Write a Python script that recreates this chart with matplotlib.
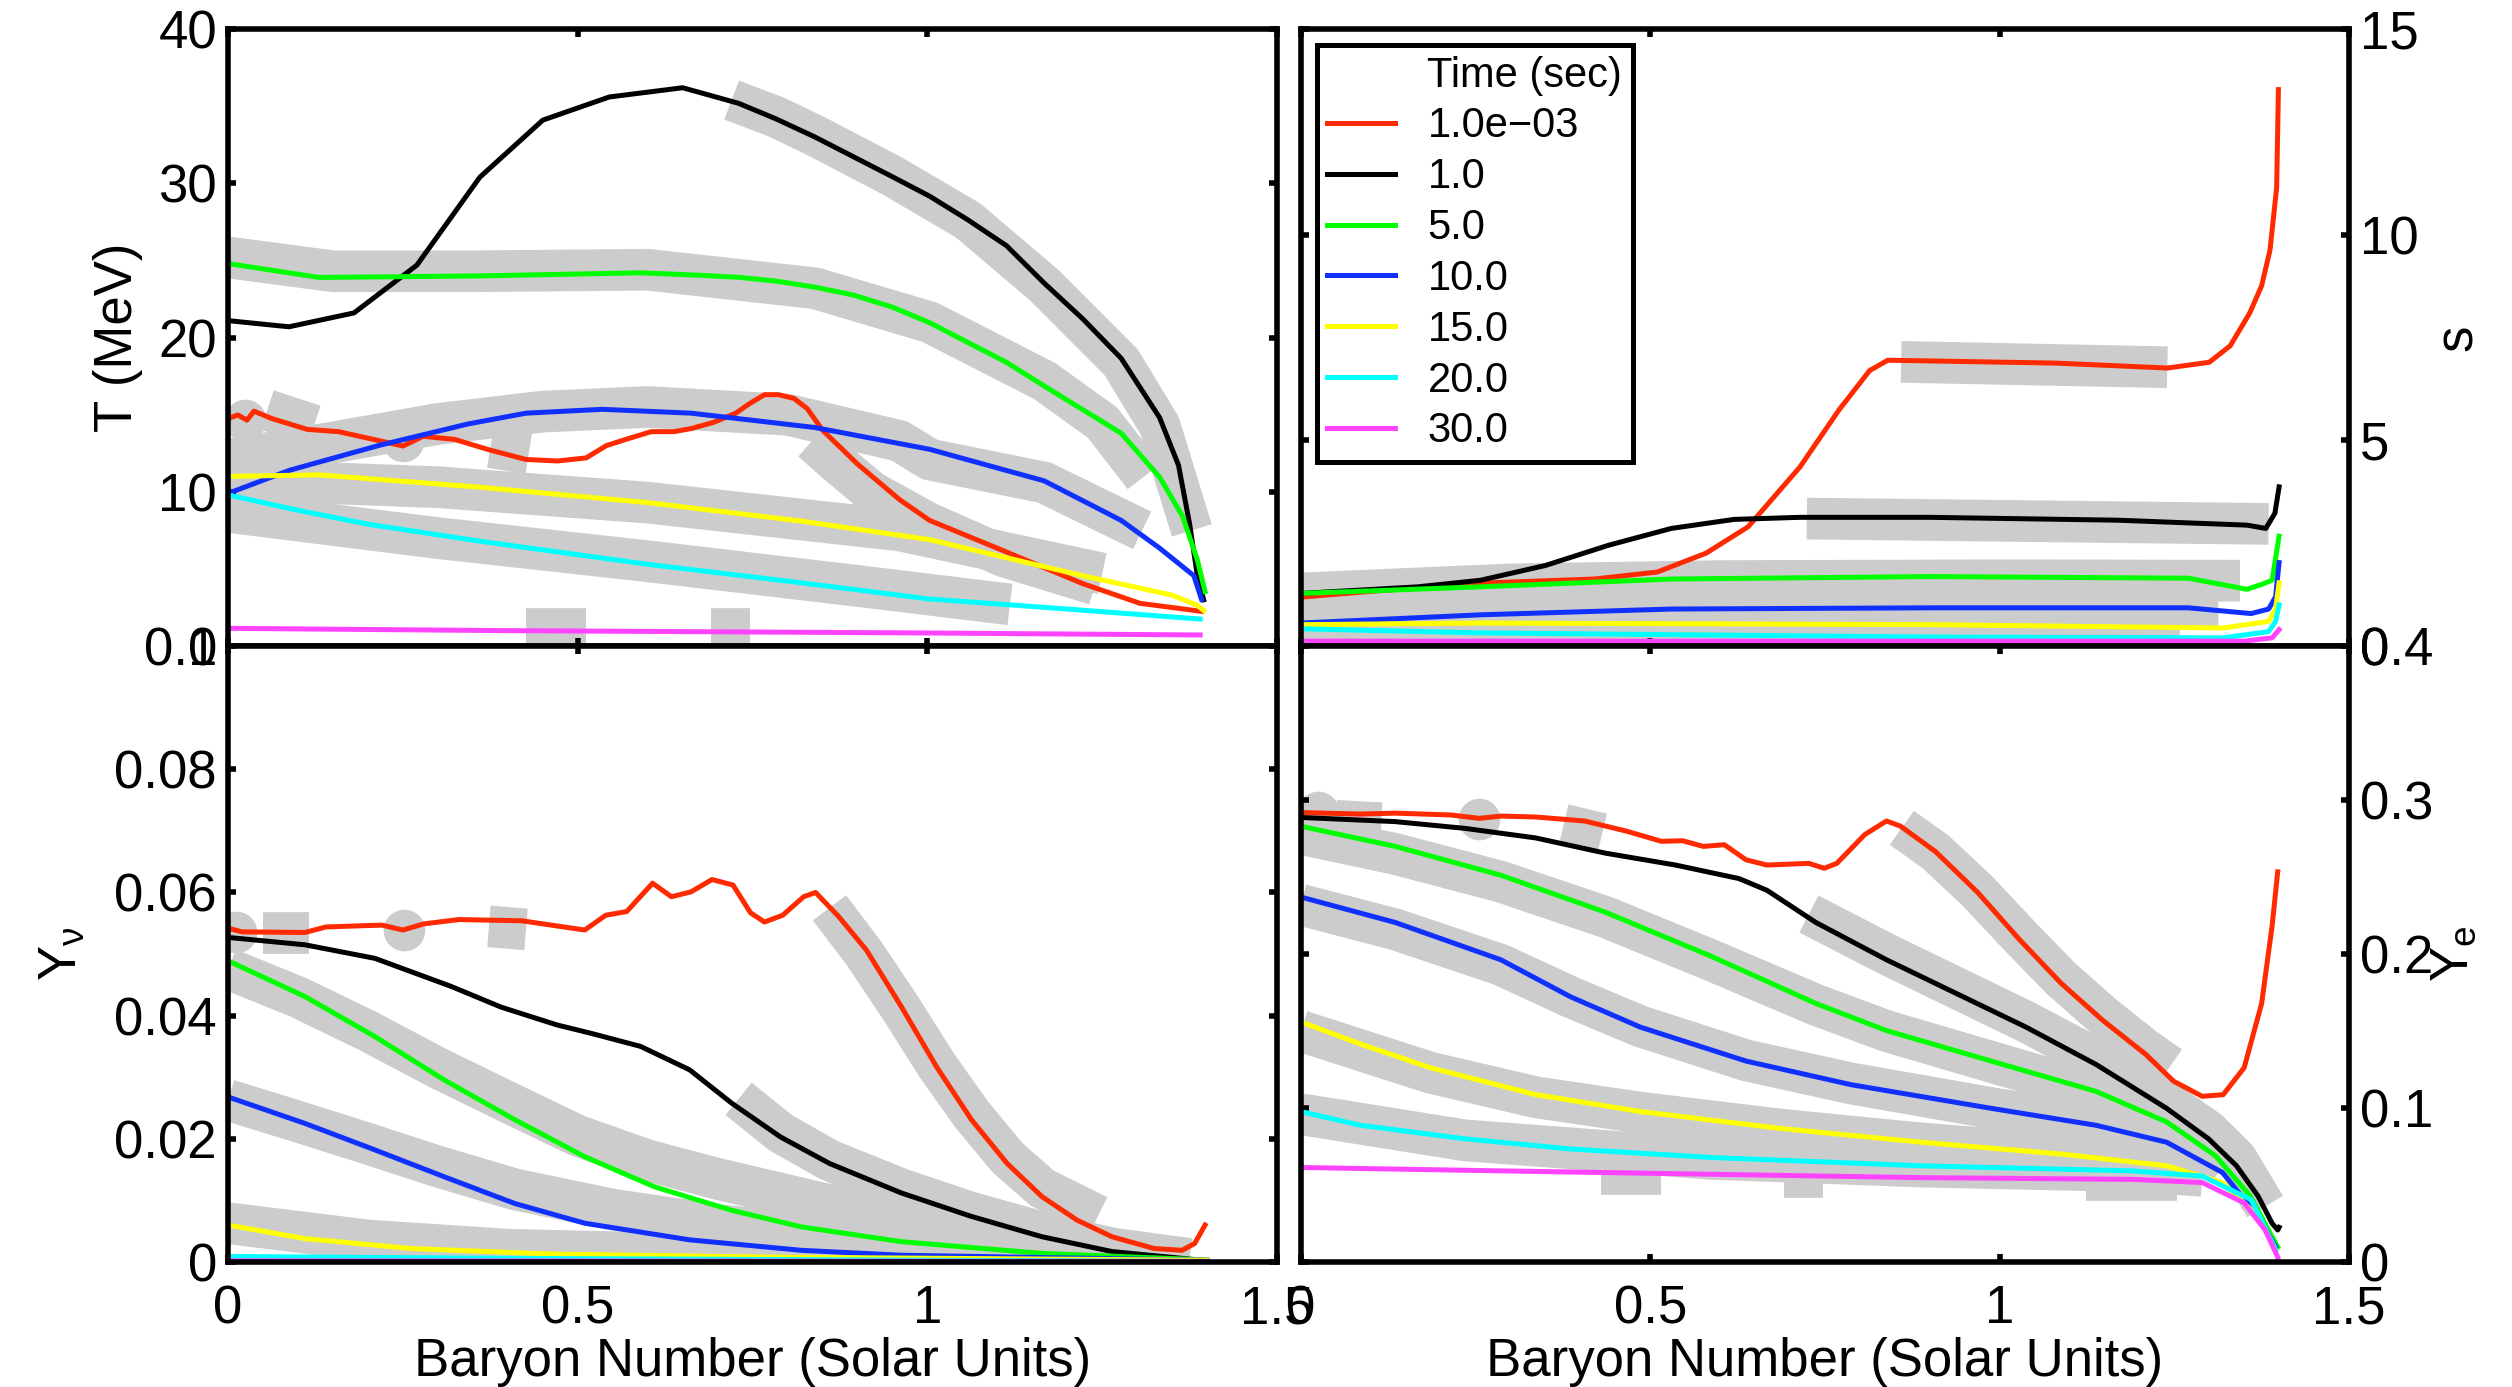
import matplotlib
matplotlib.use('Agg')
import matplotlib.pyplot as plt
from matplotlib.lines import Line2D

plt.rcParams['font.family'] = ['Liberation Sans', 'DejaVu Sans']
plt.rcParams['mathtext.default'] = 'regular'

# time slices (legend) and their colours
times = ['1.0e\u221203', '1.0', '5.0', '10.0', '15.0', '20.0', '30.0']
colors = ['#ff2a00', '#000000', '#00ff00', '#1030ff', '#ffff00', '#00ffff', '#ff44ff']
GRAY = '#cccccc'

xticks = [0, 0.5, 1, 1.5]
xticklabels = ['0', '0.5', '1', '1.5']

# ---- temperature T (MeV) ----
T_red = ([0, 0.014, 0.027, 0.037, 0.062, 0.113, 0.158, 0.202, 0.25, 0.279, 0.324, 0.375, 0.426, 0.471,
          0.512, 0.541, 0.573, 0.605, 0.637, 0.662, 0.694, 0.726, 0.745, 0.767, 0.787, 0.809, 0.828, 0.85,
          0.9, 0.96, 1.003, 1.113, 1.222, 1.304, 1.392],
         [14.76, 14.98, 14.65, 15.23, 14.76, 14.05, 13.9, 13.46, 12.97, 13.6, 13.4, 12.7, 12.1, 12.0,
          12.2, 13.0, 13.46, 13.9, 13.9, 14.1, 14.5, 15.1, 15.7, 16.3, 16.3, 16.06, 15.4, 14.0,
          11.8, 9.5, 8.15, 6.1, 4.05, 2.77, 2.25])
T_black = ([0, 0.087, 0.18, 0.27, 0.36, 0.45, 0.545, 0.65, 0.73, 0.784, 0.839, 0.894, 0.949, 1.003,
            1.058, 1.113, 1.167, 1.222, 1.277, 1.332, 1.359, 1.375, 1.386, 1.395],
           [21.1, 20.7, 21.6, 24.7, 30.4, 34.1, 35.6, 36.2, 35.19, 34.17, 33.01, 31.73, 30.45, 29.17,
            27.63, 25.96, 23.53, 21.22, 18.66, 14.81, 11.73, 7.89, 4.56, 3.0])
T_green = ([0, 0.13, 0.36, 0.59, 0.675, 0.73, 0.784, 0.839, 0.894, 0.949, 1.003, 1.058, 1.113, 1.167,
            1.222, 1.277, 1.332, 1.365, 1.386, 1.397],
           [24.8, 23.9, 24.0, 24.2, 24.04, 23.91, 23.66, 23.27, 22.76, 21.99, 20.97, 19.68, 18.4, 16.86,
            15.33, 13.8, 10.96, 8.4, 5.58, 3.53])
T_blue = ([0, 0.088, 0.215, 0.343, 0.426, 0.535, 0.662, 0.839, 1.003, 1.167, 1.277, 1.332, 1.381, 1.392],
          [9.9, 11.4, 13.0, 14.4, 15.1, 15.35, 15.1, 14.17, 12.76, 10.71, 8.15, 6.35, 4.56, 3.02])
T_yellow = ([0, 0.13, 0.36, 0.6, 0.82, 1.003, 1.222, 1.35, 1.386, 1.395],
            [11.0, 11.1, 10.3, 9.3, 8.1, 6.9, 4.56, 3.3, 2.64, 2.3])
T_cyan = ([0, 0.1, 0.2, 0.36, 0.6, 0.82, 1.003, 1.2, 1.39],
          [9.8, 8.8, 7.9, 6.8, 5.3, 4.1, 3.05, 2.4, 1.75])
T_mag = ([0, 0.4, 0.96, 1.39], [1.15, 1.0, 0.86, 0.72])

gT_lines = [([0.72, 0.784, 0.839, 0.949, 1.058, 1.167, 1.277, 1.332, 1.378],
             [35.4, 34.3, 33.1, 30.5, 27.6, 23.4, 18.4, 14.3, 7.5]),
            ([0, 0.15, 0.35, 0.6, 0.839, 1.003, 1.167, 1.25, 1.31],
             [25.2, 24.3, 24.3, 24.4, 23.2, 21.0, 17.2, 14.5, 11.0]),
            ([0, 0.15, 0.3, 0.45, 0.6, 0.8, 0.96, 1.003, 1.167, 1.307],
             [12.1, 13.2, 14.4, 15.2, 15.5, 15.0, 13.3, 12.1, 10.6, 7.5]),
            ([0, 0.3, 0.6, 0.96, 1.25], [10.8, 10.3, 9.3, 7.5, 4.7]),
            ([0, 0.3, 0.6, 0.9, 1.118], [8.7, 7.0, 5.5, 3.9, 2.7]),
            ([0.835, 0.87, 0.92, 1.0, 1.11, 1.24], [13.3, 11.9, 10.0, 8.0, 5.8, 4.0])]
gT_dots = ([0.024, 0.25], [14.65, 13.3])
gT_dash_x = [(0.056, 0.123), (0.375, 0.43), (0.426, 0.512), (0.69, 0.746)]
gT_dash_y = [(15.3, 14.3), (12.9, 12.5), (1.1, 1.1), (1.1, 1.1)]

# ---- entropy s ----
S_red = ([0, 0.1, 0.257, 0.42, 0.51, 0.58, 0.64, 0.714, 0.77, 0.814, 0.84, 1.08, 1.24, 1.30, 1.33,
          1.358, 1.375, 1.387, 1.3965, 1.399],
         [1.19, 1.33, 1.53, 1.63, 1.8, 2.26, 2.9, 4.35, 5.74, 6.7, 6.95, 6.88, 6.76, 6.9, 7.3,
          8.1, 8.76, 9.63, 11.15, 13.53])
S_black = ([0, 0.167, 0.257, 0.35, 0.44, 0.53, 0.62, 0.714, 0.9, 1.17, 1.354, 1.381, 1.394, 1.4],
           [1.28, 1.44, 1.6, 1.96, 2.45, 2.86, 3.08, 3.13, 3.13, 3.06, 2.94, 2.86, 3.23, 3.87])
S_green = ([0, 0.257, 0.53, 0.9, 1.27, 1.354, 1.375, 1.39, 1.4],
           [1.28, 1.44, 1.63, 1.69, 1.65, 1.38, 1.5, 1.6, 2.67])
S_blue = ([0, 0.257, 0.53, 0.9, 1.27, 1.36, 1.385, 1.395, 1.4],
          [0.56, 0.76, 0.9, 0.93, 0.93, 0.79, 0.9, 1.2, 2.03])
S_yellow = ([0, 0.257, 0.9, 1.32, 1.385, 1.395, 1.4], [0.52, 0.56, 0.52, 0.44, 0.6, 0.9, 1.54])
S_cyan = ([0, 0.257, 0.9, 1.32, 1.385, 1.395, 1.4], [0.42, 0.32, 0.22, 0.2, 0.35, 0.6, 1.0])
S_mag = ([0, 0.7, 1.35, 1.39, 1.4], [0.12, 0.12, 0.12, 0.2, 0.4])

gS_lines = [([0.859, 1.24], [6.91, 6.78]),
            ([0.724, 1.385], [3.1, 2.97]),
            ([0, 0.3, 0.6, 1.0, 1.344], [1.28, 1.5, 1.58, 1.6, 1.59]),
            ([0, 0.3, 0.6, 1.0, 1.313], [0.62, 0.82, 0.92, 0.95, 0.95]),
            ([0, 0.5, 1.0, 1.258], [0.45, 0.5, 0.48, 0.45])]

# ---- neutrino fraction Y_nu ----
N_red = ([0, 0.02, 0.11, 0.14, 0.22, 0.25, 0.28, 0.33, 0.42, 0.51, 0.54, 0.57, 0.607, 0.634, 0.662, 0.692,
          0.722, 0.747, 0.767, 0.793, 0.823, 0.840, 0.873, 0.913, 0.963, 1.013, 1.063, 1.114, 1.164, 1.214,
          1.264, 1.324, 1.364, 1.382, 1.397],
         [0.0542, 0.0536, 0.0535, 0.0544, 0.0547, 0.0539, 0.0549, 0.0556, 0.0554, 0.0539, 0.0563, 0.0569,
          0.0615, 0.0593, 0.0601, 0.0621, 0.0612, 0.0567, 0.0552, 0.0563, 0.0593, 0.0600, 0.0561, 0.0506,
          0.0414, 0.0317, 0.0231, 0.0160, 0.0106, 0.0068, 0.0041, 0.0022, 0.0019, 0.0030, 0.0060])
N_black = ([0, 0.11, 0.21, 0.32, 0.39, 0.47, 0.52, 0.59, 0.66, 0.72, 0.79, 0.86, 0.963, 1.063, 1.164,
            1.264, 1.364, 1.4],
           [0.0527, 0.0515, 0.0493, 0.0447, 0.0414, 0.0385, 0.0371, 0.0350, 0.0312, 0.0258, 0.0203,
            0.0160, 0.0112, 0.0074, 0.0041, 0.0017, 0.0006, 0.0002])
N_green = ([0, 0.11, 0.21, 0.31, 0.41, 0.51, 0.61, 0.72, 0.82, 0.963, 1.164, 1.364, 1.4],
           [0.0489, 0.0431, 0.0366, 0.0295, 0.0231, 0.0171, 0.0122, 0.0084, 0.0057, 0.0033, 0.0014,
            0.0005, 0.0003])
N_blue = ([0, 0.11, 0.21, 0.31, 0.41, 0.51, 0.66, 0.82, 0.963, 1.4],
          [0.0268, 0.0225, 0.0182, 0.0138, 0.0095, 0.0063, 0.0036, 0.0019, 0.0011, 0.0003])
N_yellow = ([0, 0.11, 0.26, 0.46, 0.77, 1.4], [0.0060, 0.0038, 0.0022, 0.0013, 0.0008, 0.0003])
N_cyan = ([0, 0.4, 1.0, 1.4], [0.0009, 0.0006, 0.0003, 0.0001])
N_mag = ([0, 1.4], [0.0002, 0.0001])

gN_lines = [([0.86, 0.91, 0.963, 1.013, 1.063, 1.114, 1.164, 1.244],
             [0.0575, 0.0500, 0.0410, 0.0320, 0.0240, 0.0170, 0.0120, 0.0075]),
            ([0.73, 0.79, 0.86, 0.963, 1.063, 1.164, 1.264, 1.375],
             [0.0265, 0.0210, 0.0165, 0.0118, 0.0080, 0.0048, 0.0022, 0.0005]),
            ([0, 0.1, 0.2, 0.3, 0.41, 0.5, 0.6, 0.7, 0.85, 1.0, 1.15, 1.3],
             [0.0476, 0.0430, 0.0375, 0.0315, 0.0254, 0.0205, 0.0165, 0.0135, 0.0095, 0.0065, 0.0040, 0.0015]),
            ([0, 0.1, 0.2, 0.3, 0.41, 0.55, 0.7, 0.9, 1.1, 1.3],
             [0.0263, 0.0228, 0.0192, 0.0155, 0.0118, 0.0085, 0.0060, 0.0038, 0.0022, 0.0010]),
            ([0, 0.2, 0.4, 0.7, 1.0, 1.35], [0.0063, 0.0035, 0.0020, 0.0012, 0.0008, 0.0004])]
gN_dots = ([0.012, 0.251], [0.0535, 0.0539])
gN_dash_x = [(0.05, 0.116), (0.373, 0.426)]
gN_dash_y = [(0.0534, 0.0534), (0.0545, 0.0540)]

# ---- electron fraction Y_e ----
E_red = ([0, 0.085, 0.135, 0.215, 0.255, 0.286, 0.336, 0.406, 0.466, 0.516, 0.546, 0.576, 0.606, 0.637,
          0.667, 0.727, 0.749, 0.767, 0.807, 0.838, 0.858, 0.908, 0.968, 1.028, 1.088, 1.148, 1.209, 1.249,
          1.290, 1.320, 1.350, 1.375, 1.390, 1.398],
         [0.2919, 0.2909, 0.2915, 0.2903, 0.2881, 0.2896, 0.2890, 0.2864, 0.2798, 0.2732, 0.2736, 0.2699,
          0.2710, 0.2612, 0.2578, 0.2589, 0.2557, 0.2589, 0.2776, 0.2864, 0.2831, 0.2666, 0.2403, 0.2096,
          0.1810, 0.1568, 0.1349, 0.1174, 0.1076, 0.1087, 0.1262, 0.1679, 0.2183, 0.2534])
E_black = ([0, 0.135, 0.235, 0.336, 0.436, 0.536, 0.627, 0.667, 0.737, 0.838, 0.938, 1.038, 1.138, 1.239,
            1.299, 1.339, 1.370, 1.390, 1.398, 1.4],
           [0.2887, 0.2860, 0.2816, 0.2754, 0.2655, 0.2578, 0.2490, 0.2414, 0.2205, 0.1963, 0.1744, 0.1525,
            0.1283, 0.0998, 0.0800, 0.0625, 0.0427, 0.0251, 0.0208, 0.0225])
E_green = ([0, 0.135, 0.286, 0.436, 0.587, 0.737, 0.838, 0.988, 1.138, 1.239, 1.309, 1.359, 1.39, 1.398],
           [0.2830, 0.2699, 0.2512, 0.2271, 0.1986, 0.1679, 0.1503, 0.1305, 0.1108, 0.0910, 0.0690, 0.0427,
            0.0164, 0.0098])
E_blue = ([0, 0.135, 0.286, 0.386, 0.486, 0.637, 0.787, 0.988, 1.138, 1.239, 1.319, 1.37, 1.395],
          [0.2370, 0.2205, 0.1963, 0.1722, 0.1525, 0.1305, 0.1152, 0.0998, 0.0888, 0.0778, 0.0581, 0.0296,
           0.0098])
E_yellow = ([0, 0.085, 0.185, 0.336, 0.486, 0.687, 0.888, 1.088, 1.239, 1.319, 1.37, 1.395],
            [0.1559, 0.1416, 0.1262, 0.1087, 0.0977, 0.0867, 0.0778, 0.0701, 0.0625, 0.0516, 0.0296, 0.0080])
E_cyan = ([0, 0.085, 0.235, 0.386, 0.587, 0.888, 1.189, 1.29, 1.36, 1.395],
          [0.0977, 0.0888, 0.0800, 0.0734, 0.0679, 0.0625, 0.0592, 0.0558, 0.0405, 0.0080])
E_mag = ([0, 0.286, 0.587, 0.888, 1.189, 1.29, 1.35, 1.38, 1.398],
         [0.0614, 0.0592, 0.0570, 0.0548, 0.0537, 0.0516, 0.0384, 0.0208, 0.0032])

gE_lines = [([0.86, 0.908, 0.968, 1.028, 1.088, 1.148, 1.209, 1.244],
             [0.282, 0.2665, 0.241, 0.212, 0.184, 0.160, 0.138, 0.127]),
            ([0.727, 0.838, 0.938, 1.038, 1.138, 1.239, 1.299, 1.339, 1.38],
             [0.226, 0.200, 0.178, 0.156, 0.132, 0.104, 0.085, 0.067, 0.036]),
            ([0, 0.135, 0.286, 0.436, 0.587, 0.737, 0.838, 0.988, 1.138, 1.239, 1.32],
             [0.278, 0.265, 0.247, 0.224, 0.196, 0.167, 0.150, 0.130, 0.110, 0.090, 0.062]),
            ([0, 0.135, 0.286, 0.386, 0.486, 0.637, 0.787, 0.988, 1.138, 1.28],
             [0.232, 0.216, 0.193, 0.172, 0.153, 0.131, 0.116, 0.100, 0.089, 0.072]),
            ([0, 0.185, 0.336, 0.486, 0.687, 0.888, 1.088, 1.28],
             [0.150, 0.123, 0.107, 0.097, 0.086, 0.077, 0.070, 0.060]),
            ([0, 0.235, 0.587, 0.888, 1.189, 1.29],
             [0.096, 0.079, 0.067, 0.062, 0.059, 0.056])]
gE_dots = ([0.024, 0.255], [0.292, 0.2875])
gE_dash_x = [(0.05, 0.115), (0.376, 0.431), (0.43, 0.515), (0.692, 0.747), (1.124, 1.254)]
gE_dash_y = [(0.2865, 0.2850), (0.284, 0.278), (0.057, 0.057), (0.055, 0.055), (0.053, 0.053)]

GLW = 30   # width of the grey reference bands
LW = 3.6
FS = 38


def draw(ax, series, glines, dots=None, dash_x=(), dash_y=()):
    for gx, gy in glines:
        ax.plot(gx, gy, color=GRAY, lw=GLW, solid_capstyle='butt', zorder=1)
    if dots is not None:
        ax.plot(dots[0], dots[1], 'o', ms=GLW, color=GRAY, mec='none', zorder=1)
    for (x0, x1), (y0, y1) in zip(dash_x, dash_y):
        ax.plot([x0, x1], [y0, y1], color=GRAY, lw=GLW, solid_capstyle='butt', zorder=1)
    lines = []
    for (x, y), c in zip(series, colors):
        l, = ax.plot(x, y, color=c, lw=LW, zorder=3)
        lines.append(l)
    ax.set_xlim(0, 1.5)
    ax.set_xticks(xticks)
    ax.tick_params(direction='in', top=True, right=True, length=6, width=4,
                   labelsize=FS, pad=8)
    ax.tick_params(axis='x', pad=16)
    for sp in ax.spines.values():
        sp.set_linewidth(4)
        sp.set_zorder(5)
    return lines


fig = plt.figure(figsize=(25.12, 13.87), dpi=100)
ax_T = fig.add_axes([0.0908, 0.5342, 0.4176, 0.4448])
ax_S = fig.add_axes([0.5179, 0.5342, 0.4172, 0.4448])
ax_N = fig.add_axes([0.0908, 0.0901, 0.4176, 0.4441])
ax_E = fig.add_axes([0.5179, 0.0901, 0.4172, 0.4441])

draw(ax_T, [T_red, T_black, T_green, T_blue, T_yellow, T_cyan, T_mag], gT_lines,
     gT_dots, gT_dash_x, gT_dash_y)
ax_T.set_ylim(0, 40)
ax_T.set_yticks([0, 10, 20, 30, 40])
ax_T.set_yticklabels(['0', '10', '20', '30', '40'])
ax_T.tick_params(labelbottom=False)
ax_T.set_ylabel('T (MeV)', fontsize=FS)
ax_T.yaxis.set_label_coords(-0.081, 0.5)

lines = draw(ax_S, [S_red, S_black, S_green, S_blue, S_yellow, S_cyan, S_mag], gS_lines)
ax_S.set_ylim(0, 15)
ax_S.set_yticks([0, 5, 10, 15])
ax_S.set_yticklabels(['0', '5', '10', '15'])
ax_S.tick_params(labelbottom=False, labelleft=False, labelright=True)
ax_S.yaxis.set_label_position('right')
ax_S.set_ylabel('s', fontsize=FS)
ax_S.yaxis.set_label_coords(1.08, 0.5)

draw(ax_N, [N_red, N_black, N_green, N_blue, N_yellow, N_cyan, N_mag], gN_lines,
     gN_dots, gN_dash_x, gN_dash_y)
ax_N.set_ylim(0, 0.1)
ax_N.set_yticks([0, 0.02, 0.04, 0.06, 0.08, 0.1])
ax_N.set_yticklabels(['0', '0.02', '0.04', '0.06', '0.08', '0.1'])
ax_N.set_xticklabels(xticklabels)
ax_N.set_ylabel(r'Y$_\nu$', fontsize=FS)
ax_N.yaxis.set_label_coords(-0.134, 0.5)
ax_N.set_xlabel('Baryon Number (Solar Units)', fontsize=FS, labelpad=2)

draw(ax_E, [E_red, E_black, E_green, E_blue, E_yellow, E_cyan, E_mag], gE_lines,
     gE_dots, gE_dash_x, gE_dash_y)
ax_E.set_ylim(0, 0.4)
ax_E.set_yticks([0, 0.1, 0.2, 0.3, 0.4])
ax_E.set_yticklabels(['0', '0.1', '0.2', '0.3', '0.4'])
ax_E.tick_params(labelleft=False, labelright=True)
ax_E.set_xticklabels(xticklabels)
ax_E.yaxis.set_label_position('right')
ax_E.set_ylabel('Y$_e$', fontsize=FS)
ax_E.yaxis.set_label_coords(1.076, 0.5)
ax_E.set_xlabel('Baryon Number (Solar Units)', fontsize=FS, labelpad=2)

# legend with a blank first row acting as title
blank = Line2D([], [], color='none')
leg = ax_S.legend([blank] + lines, ['Time (sec)'] + times, loc='upper left',
                  bbox_to_anchor=(0.0153, 0.974), borderaxespad=0, fontsize=30,
                  handlelength=1.63, handletextpad=0.77, labelspacing=0.26,
                  borderpad=0.25, fancybox=False, framealpha=1)
leg.get_frame().set_edgecolor('black')
leg.get_frame().set_linewidth(3.6)
for h in leg.get_lines():
    h.set_linewidth(LW)
leg.set_zorder(10)

fig.savefig('out.png', dpi=100)
